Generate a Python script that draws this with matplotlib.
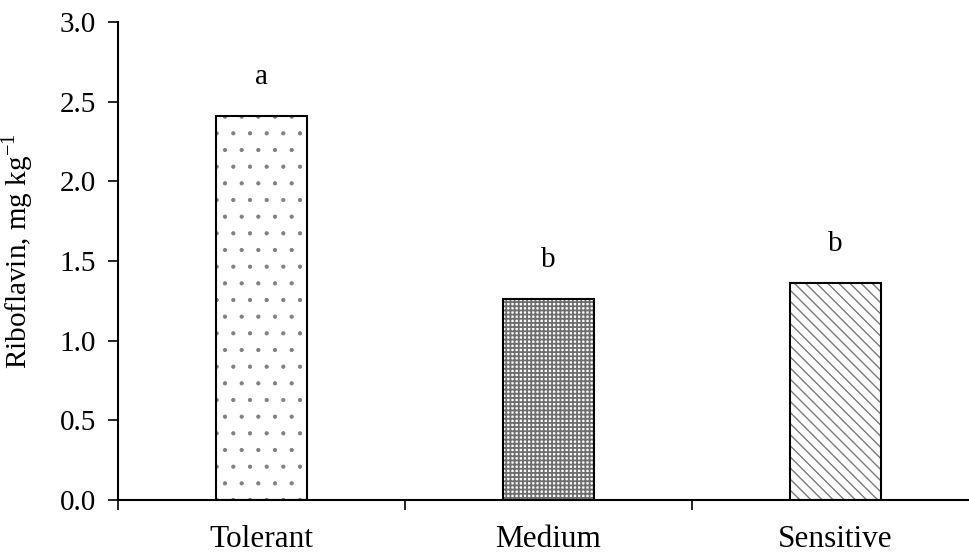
import numpy as np
import matplotlib
matplotlib.use("Agg")
import matplotlib.pyplot as plt

plt.rcParams['font.family'] = ['Liberation Serif', 'DejaVu Serif']
plt.rcParams['mathtext.fontset'] = 'custom'
plt.rcParams['mathtext.rm'] = 'Liberation Serif'

categories = ["Tolerant", "Medium", "Sensitive"]
values = [2.41, 1.26, 1.36]
letters = ["a", "b", "b"]
hatches = [".", "++++", "\\\\\\"]
hatch_colors = ["#808080", "#6e6e6e", "#7a7a7a"]
hatch_widths = [0.6, 1.3, 1.0]

fig = plt.figure(figsize=(9.69, 5.56), dpi=100)
ax = fig.add_axes([118 / 969, 56 / 556, 861 / 969, 478 / 556])

pos = np.arange(len(categories)) + 0.5
for x, v, h, hc, hw in zip(pos, values, hatches, hatch_colors, hatch_widths):
    with plt.rc_context({'hatch.linewidth': hw}):
        b = ax.bar(x, v, width=0.315, facecolor="white", edgecolor=hc, hatch=h, linewidth=0)
        for p in b:
            if hasattr(p, "set_hatch_linewidth"):
                p.set_hatch_linewidth(hw)
    ax.bar(x, v, width=0.315, facecolor="none", edgecolor="black", linewidth=1.5)

for x, v, t in zip(pos, values, letters):
    ax.text(x, v + 0.2, t, ha="center", va="baseline", fontsize=21)

ax.set_xlim(0, 3)
ax.set_ylim(0, 3.0)
yt = np.arange(0, 3.01, 0.5)
ax.set_yticks(yt)
ax.set_yticklabels([f"{t:.1f}" for t in yt])
ax.set_xticks([0, 1, 2, 3])
ax.set_xticklabels([])
ax.set_xticks(pos, minor=True)
ax.set_xticklabels(categories, minor=True)
ax.tick_params(axis="x", which="major", direction="out", length=7, width=1.2)
ax.tick_params(axis="x", which="minor", length=0, pad=18, labelsize=22.5)
ax.tick_params(axis="y", direction="out", length=7, width=1.2, labelsize=21, pad=9)

for s in ["top", "right"]:
    ax.spines[s].set_visible(False)
for s in ["left", "bottom"]:
    ax.spines[s].set_linewidth(1.5)

ax.set_ylabel(r"Riboflavin, mg kg$^{\mathregular{-1}}$", fontsize=21)
ax.yaxis.set_label_coords(-0.096, 0.52)

fig.savefig("out.png", dpi=100)
